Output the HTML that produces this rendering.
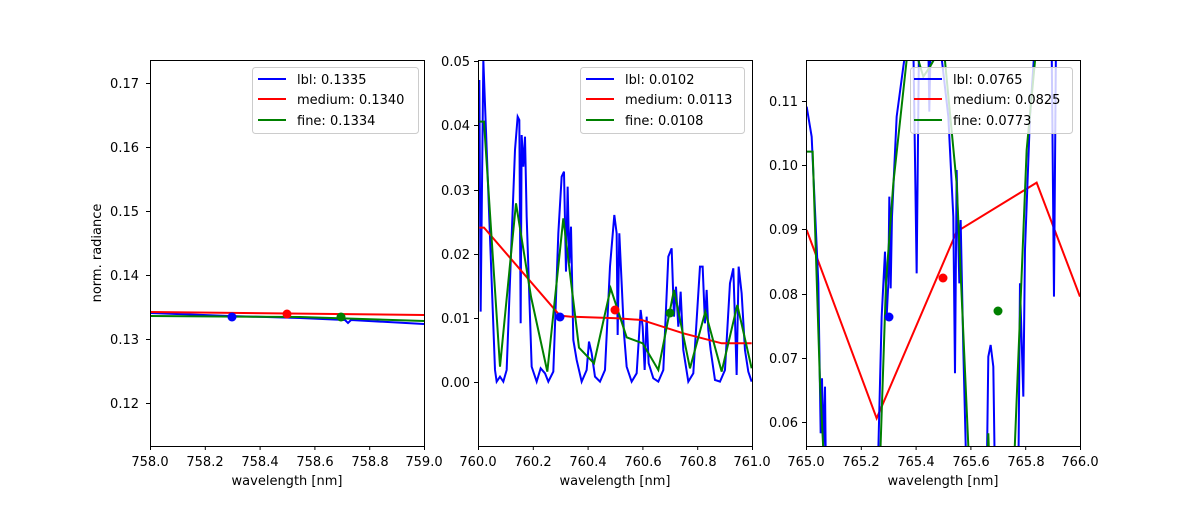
<!DOCTYPE html><html><head><style>body{margin:0;background:#fff}svg text{font-family:"DejaVu Sans","Liberation Sans",sans-serif;font-size:13px;fill:#000}</style></head><body>
<svg width="1200" height="500" xmlns="http://www.w3.org/2000/svg">
<defs>
<clipPath id="c1"><rect x="150" y="60" width="274" height="386"/></clipPath>
<clipPath id="c2"><rect x="478" y="60" width="274" height="386"/></clipPath>
<clipPath id="c3"><rect x="806" y="60" width="274" height="386"/></clipPath>
</defs>
<g clip-path="url(#c1)" fill="none" stroke-width="2">
<polyline stroke="#0000ff" points="150,313 230,316 300,318 345,320 348,323 351,320 424,324"/>
<polyline stroke="#ff0000" points="150,312 424,315"/>
<polyline stroke="#008000" points="150,316 300,317 424,321"/>
<circle cx="232" cy="317" r="4.5" fill="#0000ff" stroke="none"/><circle cx="287" cy="314" r="4.5" fill="#ff0000" stroke="none"/><circle cx="341" cy="317" r="4.5" fill="#008000" stroke="none"/>
</g>
<g clip-path="url(#c2)"><g transform="translate(470,50) scale(0.3333)" fill="none">
<polyline vector-effect="non-scaling-stroke" stroke-width="2" stroke="#0000ff" points="28,90 32,785 40,30 75,960 80,995 90,980 100,995 110,960 125,560 135,300 143,200 148,210 152,820 155,255 160,350 165,260 170,500 185,950 200,995 212,955 225,970 235,995 250,965 265,550 275,380 282,365 288,665 293,410 298,640 303,530 310,870 320,930 335,995 350,960 357,875 365,910 375,980 390,995 405,960 420,650 433,495 440,550 443,855 448,550 455,700 462,850 470,950 485,995 500,970 512,780 518,830 524,960 530,800 536,940 550,985 565,995 580,960 595,620 605,595 612,800 618,710 625,830 632,725 640,900 655,995 670,970 690,650 698,650 705,820 710,720 715,840 722,900 735,990 750,995 765,960 780,700 790,655 796,840 800,975 806,650 815,730 825,900 835,965 845,995"/>
<polyline vector-effect="non-scaling-stroke" stroke-width="2" stroke="#ff0000" points="28,533 42,533 270,797 300,800 440,805 515,810 640,850 755,880 845,880"/>
<polyline vector-effect="non-scaling-stroke" stroke-width="2" stroke="#008000" points="28,215 42,215 90,950 138,460 183,740 232,965 280,505 327,893 372,940 422,715 470,862 518,880 565,960 612,720 660,955 706,785 755,965 802,765 845,955"/>
</g>
<circle cx="560" cy="317" r="4.5" fill="#0000ff"/><circle cx="615" cy="310" r="4.5" fill="#ff0000"/><circle cx="670" cy="313" r="4.5" fill="#008000"/>
</g>
<g clip-path="url(#c3)"><g transform="translate(800,50) scale(0.3333)" fill="none">
<polyline vector-effect="non-scaling-stroke" stroke-width="2" stroke="#ff0000" points="20,540 230,1105 470,545 710,398 840,740"/>
<polyline vector-effect="non-scaling-stroke" stroke-width="2" stroke="#0000ff" points="20,170 35,260 55,700 62,1150 66,985 70,1200 75,1010 78,1300 230,1300 235,1200 245,800 255,605 260,800 265,700 268,440 272,715 276,500 290,200 310,50 320,-20 340,-20 350,670 357,-20 385,-20 388,185 392,-20 420,-20 445,200 460,500 465,970 470,360 478,700 482,510 490,900 500,1300 560,1300 565,920 572,885 580,950 585,1300 655,1300 660,700 670,1040 675,600 690,200 700,50 705,-20 755,-20 762,740 768,-20"/>
<polyline vector-effect="non-scaling-stroke" stroke-width="2" stroke="#008000" points="20,305 38,305 60,1000 75,1300 238,1300 258,700 280,400 320,30 340,-20 370,80 390,50 430,-20 470,400 510,1300 562,1300 565,1150 570,1300 640,1300 680,300 710,-20"/>
</g>
<circle cx="889" cy="317" r="4.5" fill="#0000ff"/><circle cx="943" cy="278" r="4.5" fill="#ff0000"/><circle cx="998" cy="311" r="4.5" fill="#008000"/>
</g>
<g fill="none" stroke="#000" stroke-width="1">
<rect x="150.5" y="60.5" width="274" height="386"/><rect x="478.5" y="60.5" width="274" height="386"/><rect x="806.5" y="60.5" width="274" height="386"/>
</g>
<g stroke="#000" stroke-width="1">
<path d="M150.5,446v4M205.3,446v4M260.1,446v4M314.9,446v4M369.7,446v4M424.5,446v4"/>
<path d="M478.5,446v4M533.3,446v4M588.1,446v4M642.9,446v4M697.7,446v4M752.5,446v4"/>
<path d="M806.5,446v4M861.3,446v4M916.1,446v4M970.9,446v4M1025.7,446v4M1080.5,446v4"/>
<path d="M150,403.5h-4M150,339.5h-4M150,275.5h-4M150,211.5h-4M150,147.5h-4M150,83.5h-4"/>
<path d="M478,382.5h-4M478,318.5h-4M478,254.5h-4M478,190.5h-4M478,125.5h-4M478,61.5h-4"/>
<path d="M806,422.5h-4M806,358.5h-4M806,294.5h-4M806,229.5h-4M806,165.5h-4M806,101.5h-4"/>
</g>
<g text-anchor="middle">
<text x="150" y="466">758.0</text><text x="205" y="466">758.2</text><text x="260" y="466">758.4</text><text x="315" y="466">758.6</text><text x="370" y="466">758.8</text><text x="424" y="466">759.0</text>
<text x="478" y="466">760.0</text><text x="533" y="466">760.2</text><text x="588" y="466">760.4</text><text x="643" y="466">760.6</text><text x="698" y="466">760.8</text><text x="752" y="466">761.0</text>
<text x="806" y="466">765.0</text><text x="861" y="466">765.2</text><text x="916" y="466">765.4</text><text x="971" y="466">765.6</text><text x="1026" y="466">765.8</text><text x="1080" y="466">766.0</text>
<text x="287" y="485">wavelength [nm]</text><text x="615" y="485">wavelength [nm]</text><text x="943" y="485">wavelength [nm]</text>
</g>
<g text-anchor="end">
<text x="139" y="408">0.12</text><text x="139" y="344">0.13</text><text x="139" y="280">0.14</text><text x="139" y="216">0.15</text><text x="139" y="152">0.16</text><text x="139" y="88">0.17</text>
<text x="470" y="387">0.00</text><text x="470" y="323">0.01</text><text x="470" y="259">0.02</text><text x="470" y="195">0.03</text><text x="470" y="130">0.04</text><text x="470" y="66">0.05</text>
<text x="798" y="427">0.06</text><text x="798" y="363">0.07</text><text x="798" y="299">0.08</text><text x="798" y="234">0.09</text><text x="798" y="170">0.10</text><text x="798" y="106">0.11</text>
</g>
<text x="101" y="253" text-anchor="middle" transform="rotate(-90 101 253)">norm. radiance</text>
<g>
<rect x="252.5" y="67.5" width="166" height="66" rx="3" fill="#fff" fill-opacity="0.8" stroke="#ccc"/>
<line x1="258" y1="79" x2="286" y2="79" stroke="#0000ff" stroke-width="2"/><text x="297" y="84">lbl: 0.1335</text>
<line x1="258" y1="99" x2="286" y2="99" stroke="#ff0000" stroke-width="2"/><text x="297" y="104">medium: 0.1340</text>
<line x1="258" y1="120" x2="286" y2="120" stroke="#008000" stroke-width="2"/><text x="297" y="125">fine: 0.1334</text>
<rect x="580.5" y="67.5" width="164" height="66" rx="3" fill="#fff" fill-opacity="0.8" stroke="#ccc"/>
<line x1="586" y1="79" x2="614" y2="79" stroke="#0000ff" stroke-width="2"/><text x="625" y="84">lbl: 0.0102</text>
<line x1="586" y1="99" x2="614" y2="99" stroke="#ff0000" stroke-width="2"/><text x="625" y="104">medium: 0.0113</text>
<line x1="586" y1="120" x2="614" y2="120" stroke="#008000" stroke-width="2"/><text x="625" y="125">fine: 0.0108</text>
<rect x="910.5" y="67.5" width="162" height="66" rx="3" fill="#fff" fill-opacity="0.8" stroke="#ccc"/>
<line x1="914" y1="79" x2="942" y2="79" stroke="#0000ff" stroke-width="2"/><text x="953" y="84">lbl: 0.0765</text>
<line x1="914" y1="99" x2="942" y2="99" stroke="#ff0000" stroke-width="2"/><text x="953" y="104">medium: 0.0825</text>
<line x1="914" y1="120" x2="942" y2="120" stroke="#008000" stroke-width="2"/><text x="953" y="125">fine: 0.0773</text>
</g>
</svg>
</body></html>
